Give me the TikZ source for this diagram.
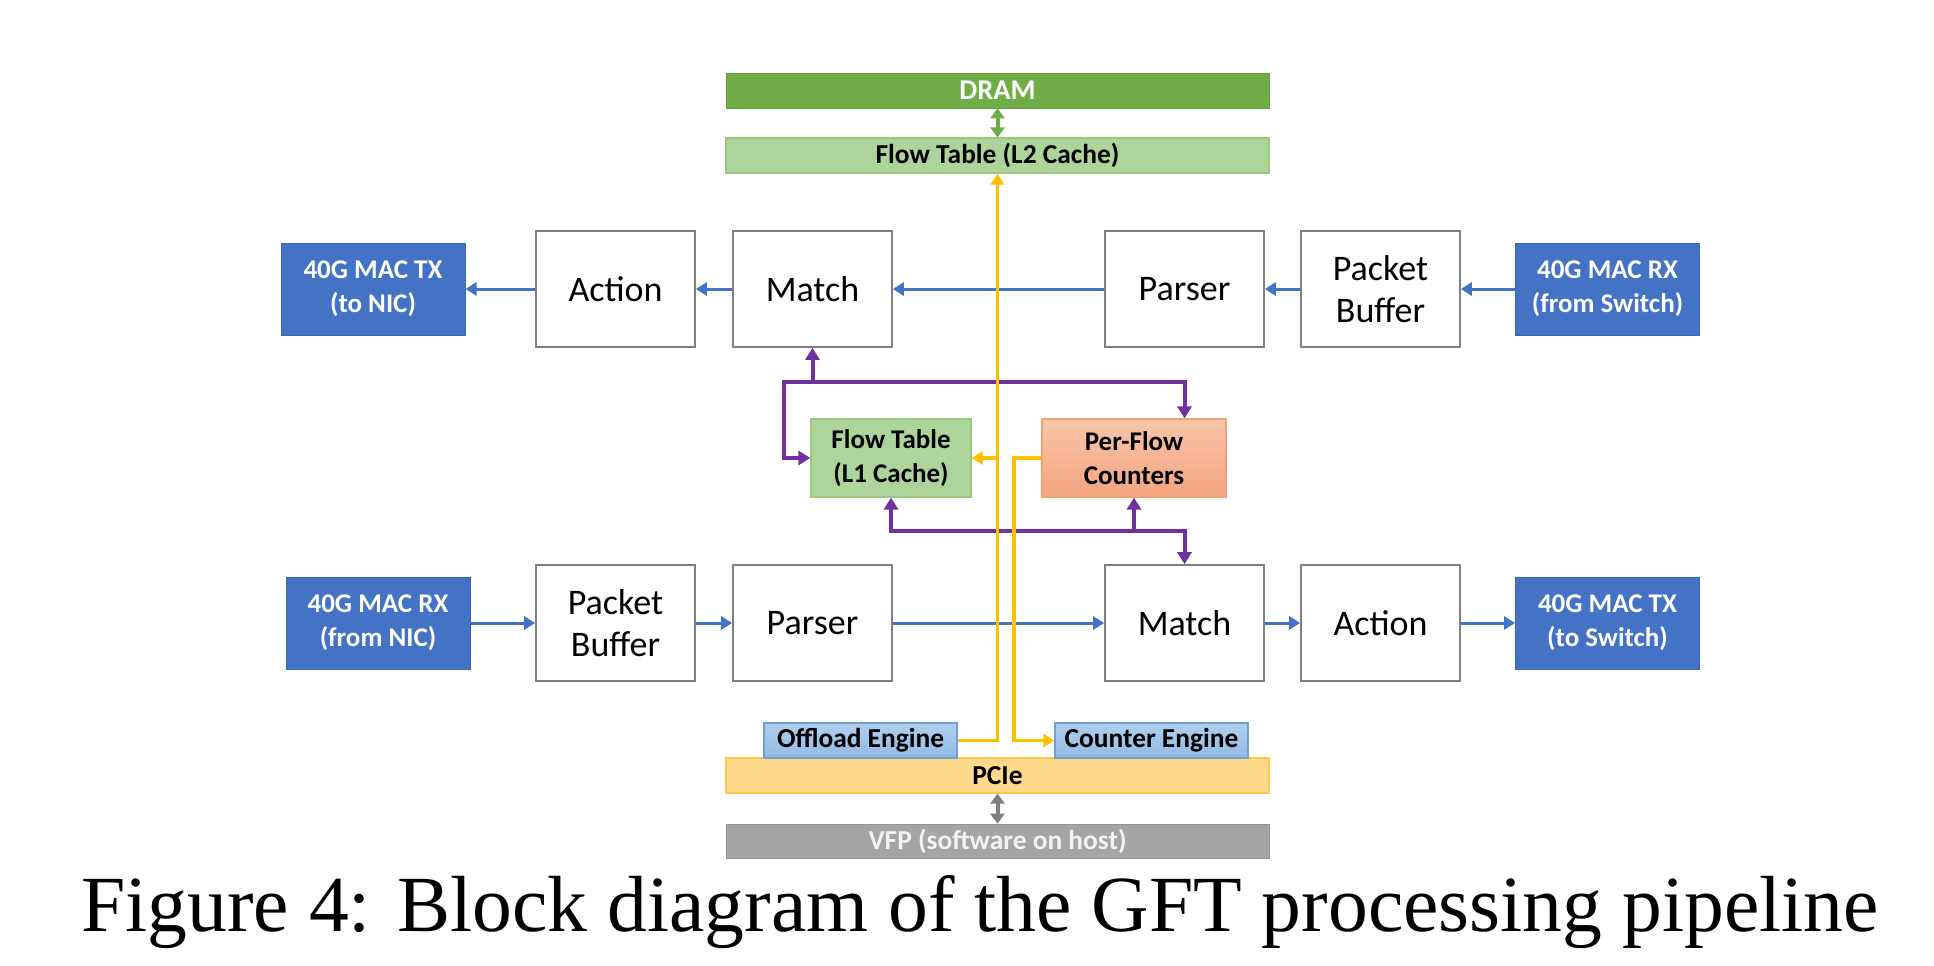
\documentclass[tikz,border=0pt]{standalone}
\usepackage{fontspec}
\setmainfont{Carlito}
\newfontfamily\capfont{Liberation Serif}
\usetikzlibrary{arrows.meta,calc}
\definecolor{macblue}{HTML}{4472C4}
\definecolor{macborder}{HTML}{3C66B0}
\definecolor{boxgray}{HTML}{7F7F7F}
\definecolor{dramgreen}{HTML}{70AD47}
\definecolor{ltgreen}{HTML}{ADD49A}
\definecolor{ltgreenb}{HTML}{98C97E}
\definecolor{salmontop}{HTML}{F8C5A9}
\definecolor{salmonbot}{HTML}{F4A47F}
\definecolor{salmonb}{HTML}{F4A070}
\definecolor{engtop}{HTML}{B0CFEE}
\definecolor{engbot}{HTML}{93B9E3}
\definecolor{engb}{HTML}{6F9FD6}
\definecolor{pcief}{HTML}{FFD98C}
\definecolor{pcieb}{HTML}{FFC64A}
\definecolor{vfpgray}{HTML}{A5A5A5}
\definecolor{vfptext}{HTML}{F2F2F2}
\definecolor{arrblue}{HTML}{4472C4}
\definecolor{arrpurple}{HTML}{7030A0}
\definecolor{arryellow}{HTML}{FFC000}
\definecolor{arrgray}{HTML}{7F7F7F}
\begin{document}
\begin{tikzpicture}[x=0.5pt,y=-0.5pt,
  wbox/.style={draw=boxgray, line width=0.85pt, fill=white, minimum width=79.5pt, minimum height=58pt, inner sep=0pt, align=center, font=\fontsize{18}{21}\selectfont},
  macbox/.style={draw=macborder, line width=0.5pt, fill=macblue, text=white, minimum width=92pt, minimum height=46pt, inner sep=0pt, align=center, font=\bfseries\fontsize{13.5}{17}\selectfont},
  ftbox/.style={draw=ltgreenb, line width=0.6pt, fill=ltgreen, minimum width=80pt, minimum height=39pt, inner sep=0pt, align=center, font=\bfseries\fontsize{13.5}{17}\selectfont},
  pfbox/.style={draw=salmonb, line width=0.6pt, top color=salmontop, bottom color=salmonbot, minimum width=92pt, minimum height=39pt, inner sep=0pt, align=center, font=\bfseries\fontsize{13.5}{17}\selectfont},
  barbox/.style={minimum width=271.5pt, minimum height=17.5pt, inner sep=0pt, font=\bfseries\fontsize{13.7}{15}\selectfont},
  engbox/.style={draw=engb, line width=0.6pt, top color=engtop, bottom color=engbot, minimum width=96.5pt, minimum height=17.5pt, inner sep=0pt, font=\bfseries\fontsize{13.7}{15}\selectfont},
  blu/.style={draw=arrblue, line width=1.5pt, -{Triangle[length=5.5pt,width=6.5pt]}},
  purp/.style={draw=arrpurple, line width=2pt},
  yel/.style={draw=arryellow, line width=1.8pt, -{Triangle[length=5.5pt,width=6.5pt]}},
]
\useasboundingbox[fill=white] (0,0) rectangle (1934,965);

% bars
\node[barbox, fill=dramgreen, draw=dramgreen!90!black, line width=0.4pt, text=white, font=\bfseries\fontsize{14.3}{15}\selectfont] (dram) at (997.5,90.5) {DRAM};
\node[barbox, fill=ltgreen, draw=ltgreenb, line width=0.6pt] (l2) at (997.5,155.5) {Flow Table (L2 Cache)};
\node[barbox, fill=pcief, draw=pcieb, line width=0.6pt] (pcie) at (997.5,775.5) {PCIe};
\node[barbox, fill=vfpgray, draw=vfpgray!90!black, line width=0.4pt, text=vfptext, minimum height=17pt] (vfp) at (997.5,841) {VFP (software on host)};
\node[engbox] (offload) at (860.5,740.5) {Offload Engine};
\node[engbox] (counter) at (1151.5,740.5) {Counter Engine};

% top row
\node[macbox] (txnic) at (373,289) {40G MAC TX\\(to NIC)};
\node[wbox] (actT) at (615.5,289) {Action};
\node[wbox] (matT) at (812.5,289) {Match};
\node[wbox] (parT) at (1184.5,289) {Parser};
\node[wbox] (pbT) at (1380.5,289) {Packet\\Buffer};
\node[macbox] (rxsw) at (1607.5,289) {40G MAC RX\\(from Switch)};

% bottom row
\node[macbox] (rxnic) at (378,623) {40G MAC RX\\(from NIC)};
\node[wbox] (pbB) at (615.5,623) {Packet\\Buffer};
\node[wbox] (parB) at (812.5,623) {Parser};
\node[wbox] (matB) at (1184.5,623) {Match};
\node[wbox] (actB) at (1380.5,623) {Action};
\node[macbox] (txsw) at (1607.5,623) {40G MAC TX\\(to Switch)};

% middle
\node[ftbox] (ftl1) at (891,458) {Flow Table\\(L1 Cache)};
\node[pfbox] (perflow) at (1134,458) {Per-Flow\\Counters};

% blue connectors
\draw[blu] (rxsw.west) -- (pbT.east);
\draw[blu] (pbT.west) -- (parT.east);
\draw[blu] (parT.west) -- (matT.east);
\draw[blu] (matT.west) -- (actT.east);
\draw[blu] (actT.west) -- (txnic.east);
\draw[blu] (rxnic.east) -- (pbB.west);
\draw[blu] (pbB.east) -- (parB.west);
\draw[blu] (parB.east) -- (matB.west);
\draw[blu] (matB.east) -- (actB.west);
\draw[blu] (actB.east) -- (txsw.west);

% green and gray
\draw[draw=dramgreen, line width=2pt, {Triangle[length=5pt,width=7pt]}-{Triangle[length=5pt,width=7pt]}] (dram.south) -- (l2.north);
\draw[draw=arrgray, line width=2pt, {Triangle[length=5pt,width=7pt]}-{Triangle[length=5pt,width=7pt]}] (pcie.south) -- (vfp.north);

% purple connectors
\coordinate (p1) at (784,382);
\coordinate (p2) at (891,531);
\draw[purp, -{Triangle[length=6pt,width=7pt]}] (p1 -| matT.south) -- (matT.south);
\draw[purp, {Triangle[length=6pt,width=7pt]}-{Triangle[length=6pt,width=7pt]}] (ftl1.west) -| (p1) -- (p1 -| matB.north) -- (perflow.north -| matB.north);
\draw[purp, {Triangle[length=6pt,width=7pt]}-{Triangle[length=6pt,width=7pt]}] (ftl1.south) -- (p2) -- (p2 -| matB.north) -- (matB.north);
\draw[purp, -{Triangle[length=6pt,width=7pt]}] (p2 -| perflow.south) -- (perflow.south);

% yellow connectors
\coordinate (yx) at (1014,0);
\draw[yel] (offload.east) -| (l2.south);
\draw[yel] (ftl1.east -| l2.south) -- (ftl1.east);
\draw[yel] (perflow.west) -- (perflow.west -| yx) |- (counter.west);

% caption
\node[anchor=base, inner sep=0pt, font=\capfont\fontsize{39.8}{44}\selectfont] (cap) at (980,931) {Figure 4: Block diagram of the GFT processing pipeline};
\end{tikzpicture}
\end{document}
